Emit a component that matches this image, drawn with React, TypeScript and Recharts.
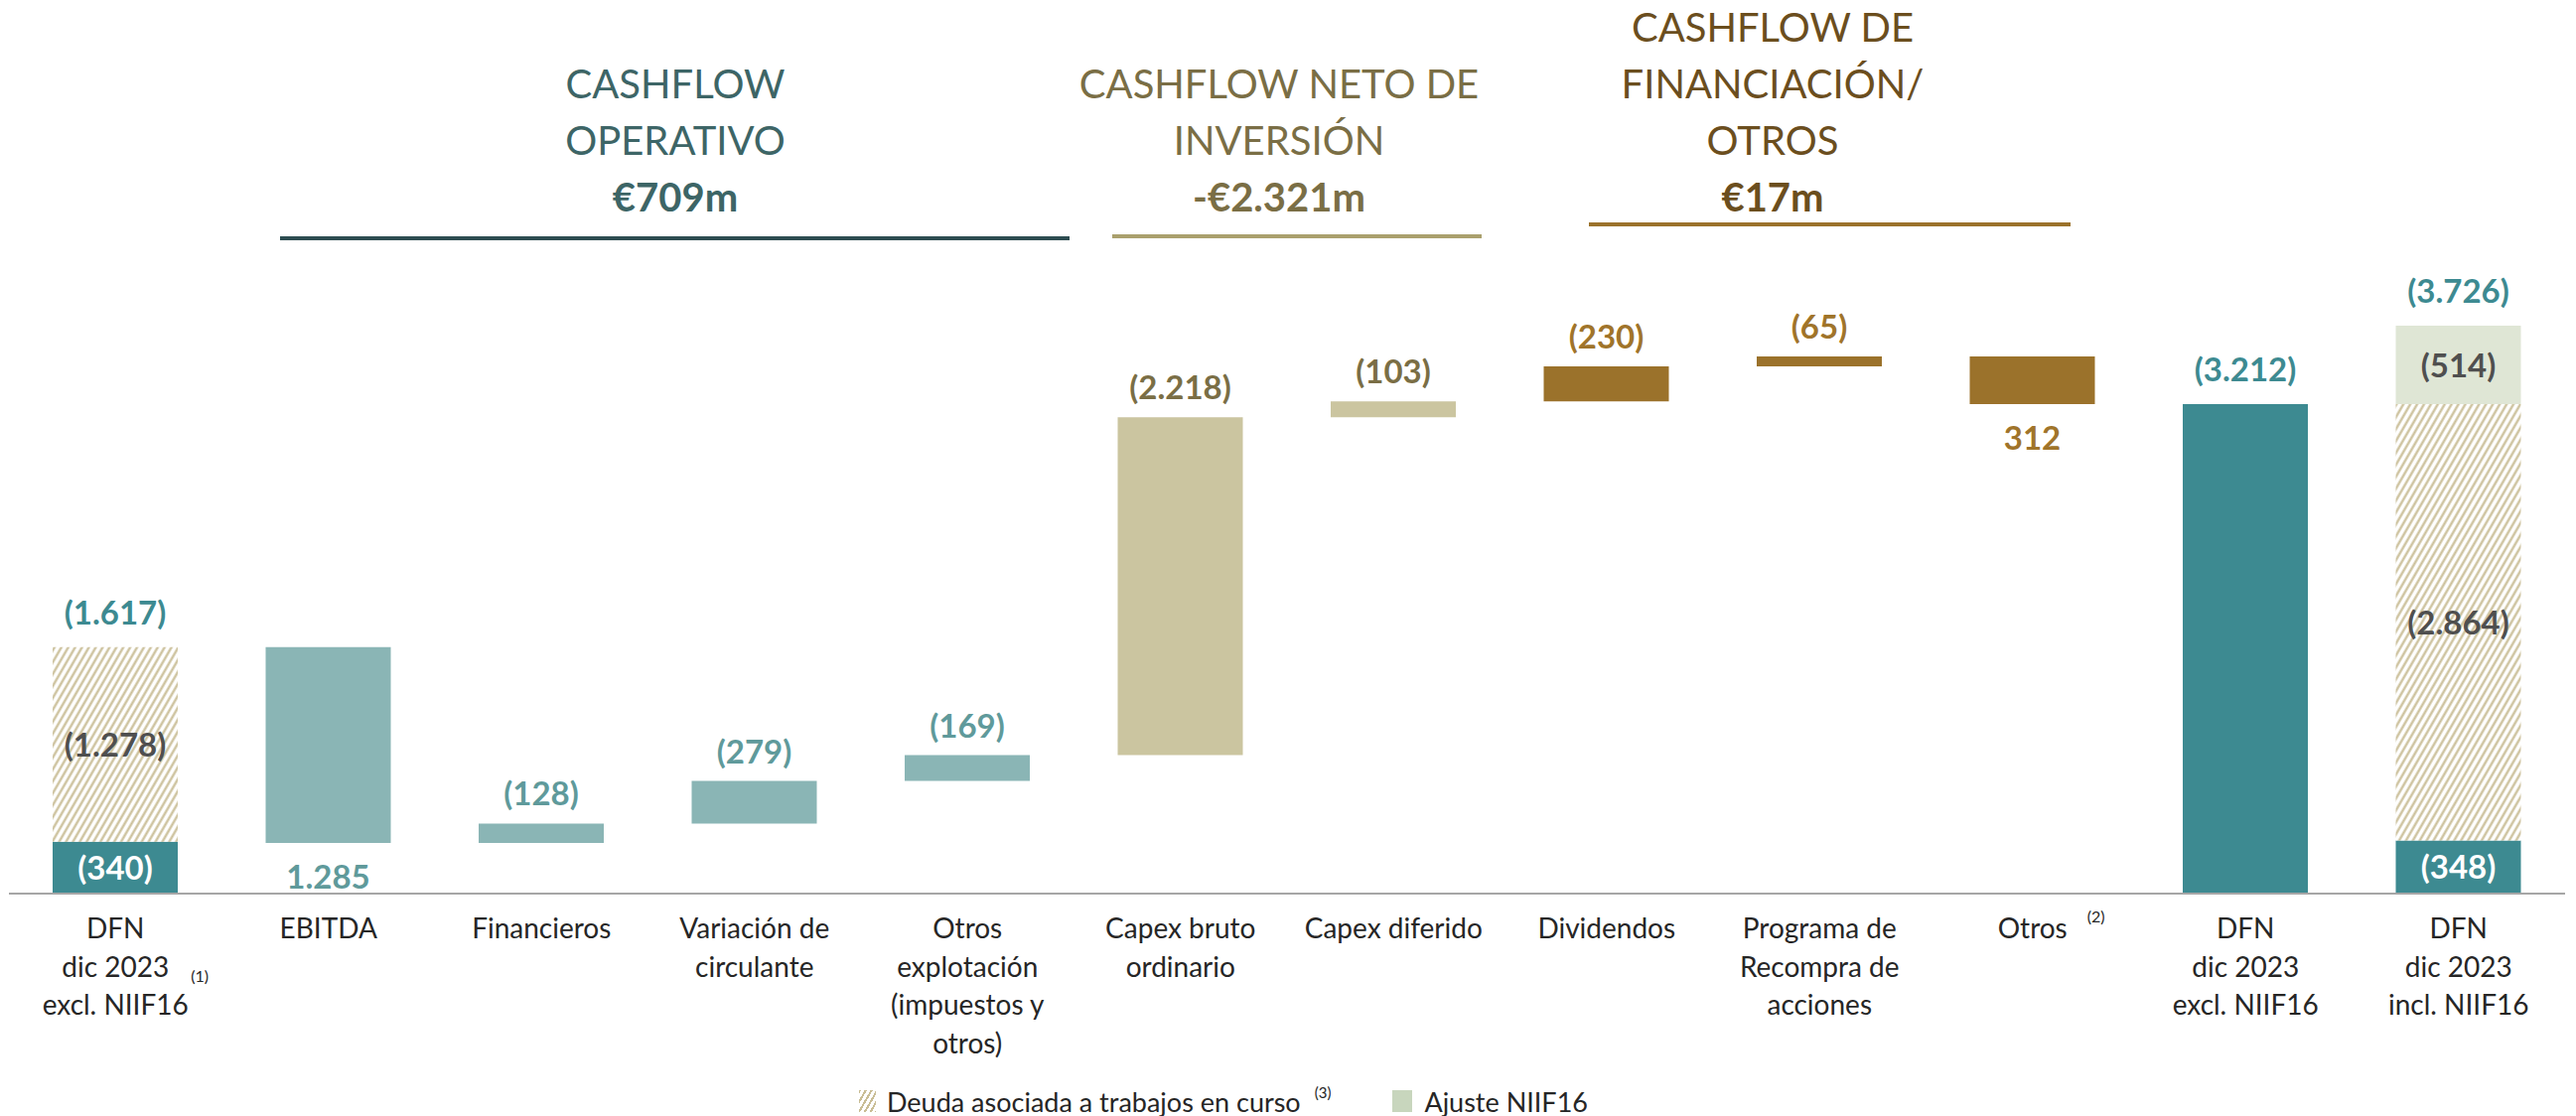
import React from 'react';
import { ComposedChart, Bar, XAxis, YAxis, Cell, LabelList, Legend } from 'recharts';

const FONT = 'Lato, "Open Sans", sans-serif';

// categories ("_" = lowered note, "^" = raised note after that line)
const categories = [
  'DFN\ndic 2023_(1)\nexcl. NIIF16',
  'EBITDA',
  'Financieros',
  'Variación de\ncirculante',
  'Otros\nexplotación\n(impuestos y\notros)',
  'Capex bruto\nordinario',
  'Capex diferido',
  'Dividendos',
  'Programa de\nRecompra de\nacciones',
  'Otros^(2)',
  'DFN\ndic 2023\nexcl. NIIF16',
  'DFN\ndic 2023\nincl. NIIF16',
];
const groups = ['total', 'op', 'op', 'op', 'op', 'inv', 'inv', 'fin', 'fin', 'fin', 'total', 'total'];
const movements = [0, -1285, 128, 279, 169, 2218, 103, 230, 65, -312, 0, 0];
const netDebt = [340, 0, 0, 0, 0, 0, 0, 0, 0, 0, 3212, 348];
const wipDebt = [1278, 0, 0, 0, 0, 0, 0, 0, 0, 0, 0, 2864];
const niifAdjustment = [0, 0, 0, 0, 0, 0, 0, 0, 0, 0, 0, 514];
const totals = [1617, 0, 0, 0, 0, 0, 0, 0, 0, 0, 3212, 3726];

const sectionTitles = [
  ['CASHFLOW', 'OPERATIVO'],
  ['CASHFLOW NETO DE', 'INVERSIÓN'],
  ['CASHFLOW DE', 'FINANCIACIÓN/', 'OTROS'],
];
const sectionAmounts = ['€709m', '-€2.321m', '€17m'];
const legendLabels = ['Deuda asociada a trabajos en curso', 'Ajuste NIIF16'];
const legendNote = '(3)';

// styling / layout
const barColors: Record<string, string> = { total: '#3d8a91', op: '#8ab5b5', inv: '#cbc5a0', fin: '#9b722b' };
const labelColors: Record<string, string> = { total: '#3d8a91', op: '#5f9a9b', inv: '#7a6e45', fin: '#a0742a' };
const innerGrey = '#4f4f4f';
const niifColor = '#dfe6d5';
const hatchColor = '#c9bd95';
const sectionStyle = [
  { cx: 680, x1: 282, x2: 1077, ruleY: 240, text: '#3d6566', rule: '#2d4c51' },
  { cx: 1288, x1: 1120, x2: 1492, ruleY: 238, text: '#7a6e45', rule: '#aaa06d' },
  { cx: 1785, x1: 1600, x2: 2085, ruleY: 226, text: '#6b4e1e', rule: '#9b722b' },
];
const HEAD_LINE = 57;
const HEAD_LAST_Y = 198;
const VALUE_SIZE = 33;
const TICK_SIZE = 28;
const TICK_FIRST = 45;
const TICK_LINE = 38.5;

const fmt = (v: number) => String(Math.round(Math.abs(v))).replace(/\B(?=(\d{3})+(?!\d))/g, '.');
const paren = (v: number) => `(${fmt(v)})`;

let level = totals[0];
const rows = categories.map((name, i) => {
  if (groups[i] === 'total') {
    return { name, idx: i, base: 0, net: netDebt[i], wip: wipDebt[i], niif: niifAdjustment[i], flow: 0 };
  }
  const next = level + movements[i];
  const row = { name, idx: i, base: Math.min(level, next), net: 0, wip: 0, niif: 0, flow: Math.abs(movements[i]) };
  level = next;
  return row;
});

function ValueText({ x, y, fill, text }: { x: number; y: number; fill: string; text: string }) {
  return (
    <text x={x} y={y} textAnchor="middle" fill={fill} fontFamily={FONT} fontSize={VALUE_SIZE} fontWeight={700}>
      {text}
    </text>
  );
}

function box(p: any) {
  const x = Number(p.x), y = Number(p.y), w = Number(p.width), h = Number(p.height);
  return { cx: x + w / 2, top: Math.min(y, y + h), bottom: Math.max(y, y + h) };
}

const totalText = (i: number, top: number, cx: number) => (
  <ValueText x={cx} y={top - 23} fill={labelColors.total} text={paren(totals[i])} />
);

// p.value carries the row index (LabelList dataKey="idx")
function NetLabel(p: any) {
  const i = Number(p.value);
  if (!netDebt[i]) return null;
  const { cx, top, bottom } = box(p);
  if (wipDebt[i] > 0) return <ValueText x={cx} y={(top + bottom) / 2 + 12} fill="#ffffff" text={paren(netDebt[i])} />;
  return totalText(i, top, cx);
}

function WipLabel(p: any) {
  const i = Number(p.value);
  if (!wipDebt[i]) return null;
  const { cx, top, bottom } = box(p);
  return (
    <g>
      <ValueText x={cx} y={(top + bottom) / 2 + 12} fill={innerGrey} text={paren(wipDebt[i])} />
      {!niifAdjustment[i] && totalText(i, top, cx)}
    </g>
  );
}

function NiifLabel(p: any) {
  const i = Number(p.value);
  if (!niifAdjustment[i]) return null;
  const { cx, top, bottom } = box(p);
  return (
    <g>
      <ValueText x={cx} y={(top + bottom) / 2 + 12} fill={innerGrey} text={paren(niifAdjustment[i])} />
      {totalText(i, top, cx)}
    </g>
  );
}

function FlowLabel(p: any) {
  const i = Number(p.value);
  if (groups[i] === 'total') return null;
  const { cx, top, bottom } = box(p);
  const m = movements[i];
  if (m > 0) return <ValueText x={cx} y={top - 18} fill={labelColors[groups[i]]} text={paren(m)} />;
  return <ValueText x={cx} y={bottom + 46} fill={labelColors[groups[i]]} text={fmt(m)} />;
}

function CategoryTick(props: any) {
  const { x, y, payload } = props;
  const lines: string[] = String(payload.value).split('\n');
  return (
    <g>
      {lines.map((raw, k) => {
        const m = raw.match(/^(.*?)([_^])(.*)$/);
        const main = m ? m[1] : raw;
        const ly = y + TICK_FIRST + k * TICK_LINE;
        return (
          <g key={k}>
            <text x={x} y={ly} textAnchor="middle" fill="#262626" fontFamily={FONT} fontSize={TICK_SIZE}>
              {main}
            </text>
            {m && (
              <text
                x={x + main.length * 7 + 20}
                y={ly + (m[2] === '_' ? 5 : -16)}
                textAnchor="start"
                fill="#262626"
                fontFamily={FONT}
                fontSize={16}
              >
                {m[3]}
              </text>
            )}
          </g>
        );
      })}
    </g>
  );
}

function LegendContent() {
  return (
    <div
      style={{
        display: 'flex',
        justifyContent: 'center',
        alignItems: 'center',
        height: 30,
        paddingRight: 128,
        fontFamily: FONT,
        fontSize: 27,
        color: '#262626',
      }}
    >
      <span
        style={{
          display: 'inline-block',
          width: 17,
          height: 22,
          marginRight: 11,
          background: `repeating-linear-gradient(120deg, ${hatchColor} 0 2px, #ffffff 2px 5px)`,
        }}
      />
      <span>{legendLabels[0]}</span>
      <span style={{ fontSize: 15, position: 'relative', top: -9, marginLeft: 14 }}>{legendNote}</span>
      <span style={{ display: 'inline-block', width: 20, height: 22, background: '#c8d6bd', marginLeft: 62, marginRight: 12 }} />
      <span>{legendLabels[1]}</span>
    </div>
  );
}

function SectionHeaders() {
  return (
    <>
      {sectionTitles.map((lines, s) => {
        const st = sectionStyle[s];
        const n = lines.length + 1;
        const top = HEAD_LAST_Y + HEAD_LINE / 2 - HEAD_LINE * n;
        return (
          <React.Fragment key={s}>
            <div
              style={{
                position: 'absolute',
                left: st.cx - 400,
                width: 800,
                top,
                textAlign: 'center',
                fontFamily: FONT,
                fontSize: 40,
                lineHeight: `${HEAD_LINE}px`,
                color: st.text,
              }}
            >
              {lines.map((l) => (
                <div key={l}>{l}</div>
              ))}
              <div style={{ fontWeight: 700 }}>{sectionAmounts[s]}</div>
            </div>
            <div
              style={{
                position: 'absolute',
                left: st.x1,
                width: st.x2 - st.x1,
                top: st.ruleY - 2,
                height: 4,
                background: st.rule,
              }}
            />
          </React.Fragment>
        );
      })}
    </>
  );
}

export default function App() {
  return (
    <div style={{ position: 'absolute', left: 0, top: 0, width: 2594, height: 1124, background: '#ffffff' }}>
      <SectionHeaders />
      <ComposedChart width={2594} height={1124} data={rows} margin={{ top: 286, right: 11, bottom: 0, left: 9 }}>
        <defs>
          <pattern id="wipHatch" patternUnits="userSpaceOnUse" width="6" height="6" patternTransform="rotate(30)">
            <rect width="6" height="6" fill="#ffffff" />
            <line x1="1.5" y1="0" x2="1.5" y2="6" stroke={hatchColor} strokeWidth="2.2" />
          </pattern>
        </defs>
        <XAxis
          dataKey="name"
          interval={0}
          height={194}
          tickLine={false}
          tickSize={0}
          tickMargin={0}
          axisLine={{ stroke: '#a6a6a6', strokeWidth: 2 }}
          tick={(props: any) => <CategoryTick {...props} />}
        />
        <YAxis hide domain={[0, 4000]} />
        <Legend verticalAlign="bottom" align="center" height={30} content={() => <LegendContent />} />
        <Bar dataKey="base" stackId="w" fill="transparent" barSize={126} isAnimationActive={false} />
        <Bar dataKey="net" stackId="w" fill={barColors.total} barSize={126} isAnimationActive={false}>
          <LabelList dataKey="idx" content={(p: any) => <NetLabel {...p} />} />
        </Bar>
        <Bar dataKey="wip" stackId="w" fill="url(#wipHatch)" barSize={126} isAnimationActive={false}>
          <LabelList dataKey="idx" content={(p: any) => <WipLabel {...p} />} />
        </Bar>
        <Bar dataKey="niif" stackId="w" fill={niifColor} barSize={126} isAnimationActive={false}>
          <LabelList dataKey="idx" content={(p: any) => <NiifLabel {...p} />} />
        </Bar>
        <Bar dataKey="flow" stackId="w" barSize={126} isAnimationActive={false}>
          {rows.map((_, i) => (
            <Cell key={i} fill={barColors[groups[i]]} />
          ))}
          <LabelList dataKey="idx" content={(p: any) => <FlowLabel {...p} />} />
        </Bar>
      </ComposedChart>
    </div>
  );
}
